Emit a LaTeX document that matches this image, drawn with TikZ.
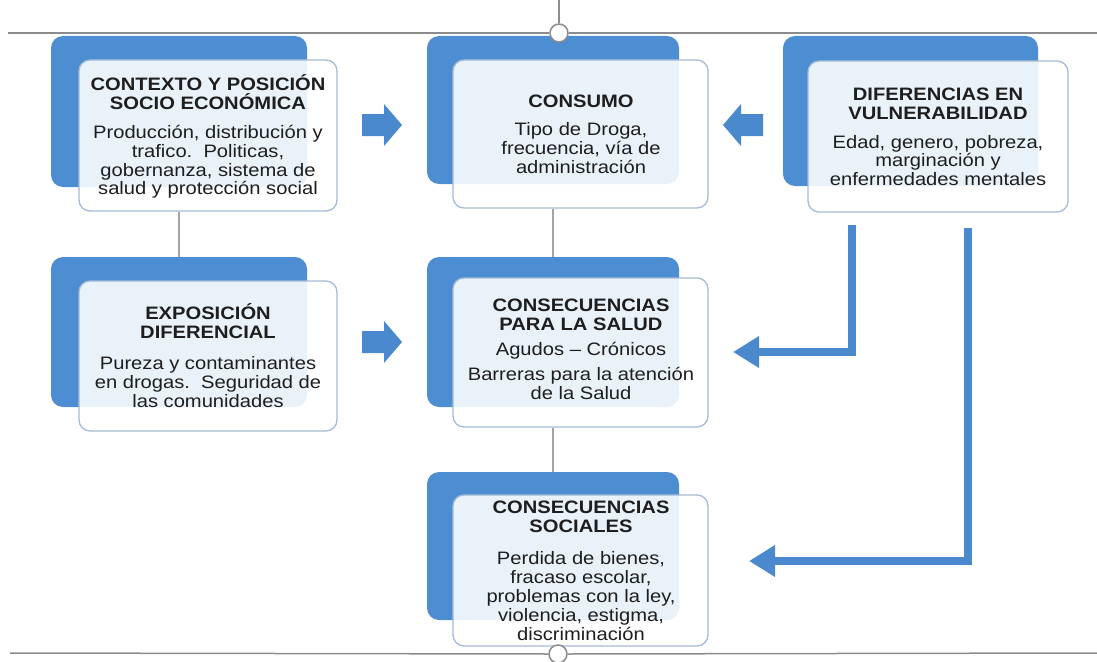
\documentclass[tikz,border=0pt]{standalone}
\usepackage{fontspec}
\setmainfont[FakeStretch=1.12]{Liberation Sans}
\usetikzlibrary{arrows.meta}
\definecolor{bkblue}{RGB}{77,141,210}
\definecolor{arblue}{RGB}{74,137,205}
\definecolor{frborder}{RGB}{165,187,214}
\definecolor{linegray}{RGB}{140,140,140}
\definecolor{thingray}{RGB}{165,165,165}
\definecolor{txtcol}{RGB}{30,30,30}
\newcommand{\ttlfont}{\fontsize{18}{19}\selectfont\bfseries}
\newcommand{\bdyfont}{\fontsize{18}{18.8}\selectfont}
\begin{document}
\begin{tikzpicture}[x=1pt,y=-1pt,
  backbox/.style={fill=bkblue, rounded corners=12pt, inner sep=0pt},
  frontbox/.style={draw=frborder, line width=1.3pt, fill=white, fill opacity=0.88, draw opacity=1, rounded corners=11pt, inner sep=0pt},
  ttl/.style={text=txtcol, align=center, inner sep=0pt, font=\ttlfont},
  bdy/.style={text=txtcol, align=center, inner sep=0pt, font=\bdyfont},
  thinlink/.style={draw=thingray, line width=1.2pt},
  frame/.style={draw=linegray, line width=1.5pt},
  bigarrow/.style={draw=arblue, line width=7.5pt, -{Triangle[length=26pt,width=30pt]}},
  blockarrow/.pic={\fill[arblue] (-20,-11) -- (2,-11) -- (2,-21) -- (20,0) -- (2,21) -- (2,11) -- (-20,11) -- cycle;}
]
\useasboundingbox (0,0) rectangle (1097,661);

% back boxes
\node[backbox, minimum width=256pt, minimum height=151pt] (ctxBk) at (179,111.5) {};
\node[backbox, minimum width=256pt, minimum height=150pt] (expBk) at (179,332) {};
\node[backbox, minimum width=252pt, minimum height=148pt] (conBk) at (553,110) {};
\node[backbox, minimum width=252pt, minimum height=150pt] (salBk) at (553,332) {};
\node[backbox, minimum width=252pt, minimum height=148pt] (socBk) at (553,546) {};
\node[backbox, minimum width=255pt, minimum height=150pt] (difBk) at (910.5,111) {};

% front boxes
\node[frontbox, minimum width=258pt, minimum height=151pt] (ctxF) at (208,135.5) {};
\node[frontbox, minimum width=258pt, minimum height=150pt] (expF) at (208,356) {};
\node[frontbox, minimum width=255pt, minimum height=148pt] (conF) at (580.5,134) {};
\node[frontbox, minimum width=255pt, minimum height=149pt] (salF) at (580.5,352.5) {};
\node[frontbox, minimum width=255pt, minimum height=151pt] (socF) at (580.5,570.5) {};
\node[frontbox, minimum width=260pt, minimum height=151pt] (difF) at (938,136.5) {};

% texts
\node[ttl] (ctxT) at (208,92) {CONTEXTO Y POSICIÓN\\SOCIO ECONÓMICA};
\node[bdy] (ctxX) at (208,162) {Producción, distribución y\\trafico.\ \ Politicas,\\gobernanza, sistema de\\salud y protección social};
\node[ttl] (conT) at (581,101) {CONSUMO};
\node[bdy] (conX) at (581,148) {Tipo de Droga,\\frecuencia, vía de\\administración};
\node[ttl] (difT) at (938,103.5) {DIFERENCIAS EN\\VULNERABILIDAD};
\node[bdy] (difX) at (938,160.5) {Edad, genero, pobreza,\\marginación y\\enfermedades mentales};
\node[ttl] (expT) at (208,321.5) {EXPOSICIÓN\\DIFERENCIAL};
\node[bdy] (expX) at (208,382) {Pureza y contaminantes\\en drogas.\ \ Seguridad de\\las comunidades};
\node[ttl] (salT) at (581,314.5) {CONSECUENCIAS\\PARA LA SALUD};
\node[bdy] (salA) at (581,351) {Agudos – Crónicos};
\node[bdy] (salX) at (581,383.5) {Barreras para la atención\\de la Salud};
\node[ttl] (socT) at (581,516.5) {CONSECUENCIAS\\SOCIALES};
\node[bdy] (socX) at (581,596) {Perdida de bienes,\\fracaso escolar,\\problemas con la ley,\\violencia, estigma,\\discriminación};

% thin links
\draw[thinlink] (ctxF.south -| ctxBk.south) -- (expBk.north);
\draw[thinlink] (conF.south -| conBk.south) -- (salBk.north);
\draw[thinlink] (salF.south -| salBk.south) -- (socBk.north);

% block arrows
\pic at (382,125) {blockarrow};
\pic[rotate=180] at (743,125) {blockarrow};
\pic at (382,342) {blockarrow};

% big L arrows
\coordinate (v1) at (852,225);
\coordinate (t1) at (733,352);
\coordinate (v2) at (968,228);
\coordinate (t2) at (749,561);
\draw[bigarrow] (v1) |- (t1);
\draw[bigarrow] (v2) |- (t2);

% frame lines
\coordinate (topv) at (559,0);
\coordinate (tl) at (8,33);
\coordinate (tr) at (1097,33);
\node[circle, draw=linegray, line width=1.5pt, fill=white, minimum size=18pt, inner sep=0pt] (topc) at (559,33) {};
\draw[frame] (tl) -- (topc.west);
\draw[frame] (topc.east) -- (tr);
\draw[frame] (topv) -- (topc.north);
\coordinate (bl) at (10,653);
\coordinate (br) at (1097,653);
\node[circle, draw=linegray, line width=1.5pt, fill=white, minimum size=18pt, inner sep=0pt] (botc) at (558,654) {};
\draw[frame] (bl) -- (botc.west);
\draw[frame] (botc.east) -- (br);
\end{tikzpicture}
\end{document}
